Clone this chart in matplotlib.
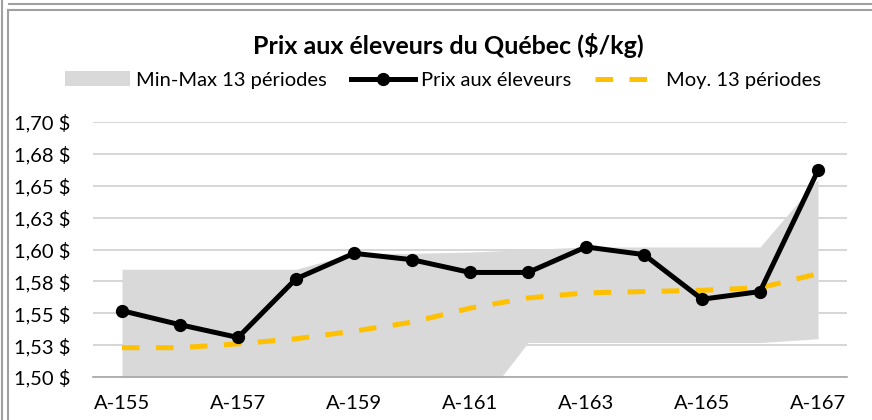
import matplotlib
matplotlib.use("Agg")
import matplotlib.pyplot as plt
from matplotlib.lines import Line2D
from matplotlib.patches import Patch

plt.rcParams['font.family'] = ['Lato', 'DejaVu Sans']

# données
periodes = ['A-155', 'A-156', 'A-157', 'A-158', 'A-159', 'A-160', 'A-161',
            'A-162', 'A-163', 'A-164', 'A-165', 'A-166', 'A-167']
prix = [1.552, 1.541, 1.531, 1.577, 1.597, 1.592, 1.582,
        1.582, 1.602, 1.596, 1.561, 1.567, 1.662]
moyenne = [1.523, 1.523, 1.526, 1.530, 1.536, 1.543, 1.554,
           1.562, 1.566, 1.567, 1.568, 1.570, 1.581]
minimum = [1.468, 1.468, 1.468, 1.468, 1.468, 1.468, 1.468,
           1.527, 1.527, 1.527, 1.527, 1.527, 1.530]
maximum = [1.5845, 1.5845, 1.5845, 1.5845, 1.597, 1.597, 1.598,
           1.600, 1.602, 1.602, 1.602, 1.602, 1.655]
yticks = [1.500, 1.525, 1.550, 1.575, 1.600, 1.625, 1.650, 1.675, 1.700]
ylabels = ['1,50 $', '1,53 $', '1,55 $', '1,58 $', '1,60 $',
           '1,63 $', '1,65 $', '1,68 $', '1,70 $']

W, H = 872, 420
fig = plt.figure(figsize=(W / 100, H / 100), dpi=100)
ax = fig.add_axes([93 / W, (H - 377) / H, (847 - 93) / W, (377 - 122) / H])

x = list(range(len(periodes)))
gris = '#D9D9D9'
jaune = '#FFC000'

ax.fill_between(x, minimum, maximum, color=gris, lw=0, zorder=1)
ax.plot(x, moyenne, color=jaune, lw=3.6, dashes=(3.5, 3.3), zorder=2)
ax.plot(x, prix, color='black', lw=3.6, marker='o', ms=8.5, zorder=3)

ax.set_xlim(-0.5, len(periodes) - 0.5)
ax.set_ylim(1.50, 1.70)
ax.set_yticks(yticks)
ax.set_yticklabels(ylabels)
ax.set_xticks(x[::2])
ax.set_xticklabels(periodes[::2])
ax.grid(axis='y', color='#D0D0D0', lw=1.2, zorder=0)
ax.set_axisbelow(True)
for s in ['top', 'right', 'left']:
    ax.spines[s].set_visible(False)
ax.spines['bottom'].set_color('#A6A6A6')
ax.spines['bottom'].set_linewidth(1.2)
ax.tick_params(length=0, labelsize=14.5, colors='black')
ax.tick_params(axis='x', pad=13)
ax.tick_params(axis='y', pad=16.5)

fig.text(448 / W, 1 - 46 / H, 'Prix aux éleveurs du Québec ($/kg)',
         ha='center', va='center', fontsize=18, fontweight='bold')

handles = [
    Patch(facecolor=gris, edgecolor='none'),
    Line2D([0], [0], color='black', lw=3.6, marker='o', ms=8.5),
    Line2D([0], [0], color=jaune, lw=3.6, dashes=(3.5, 3.3)),
]
labels = ['Min-Max 13 périodes', 'Prix aux éleveurs', 'Moy. 13 périodes']
fig.legend(handles, labels, loc='center', bbox_to_anchor=(443 / W, 1 - 80 / H),
           ncol=3, frameon=False, fontsize=14.5, handlelength=3.2,
           handletextpad=0.3, columnspacing=1.2)

# cadre de la capture
gc = '#A0A0A0'
fig.add_artist(Line2D([9 / W, 1], [1 - 3.5 / H] * 2, color=gc, lw=1.5))
fig.add_artist(Line2D([9 / W, 1], [1 - 10 / H] * 2, color=gc, lw=1.5))
fig.add_artist(Line2D([2 / W] * 2, [0, 1], color=gc, lw=1.5))
fig.add_artist(Line2D([8 / W] * 2, [0, 1 - 10 / H], color=gc, lw=1.5))

fig.savefig('out.png', dpi=100)
